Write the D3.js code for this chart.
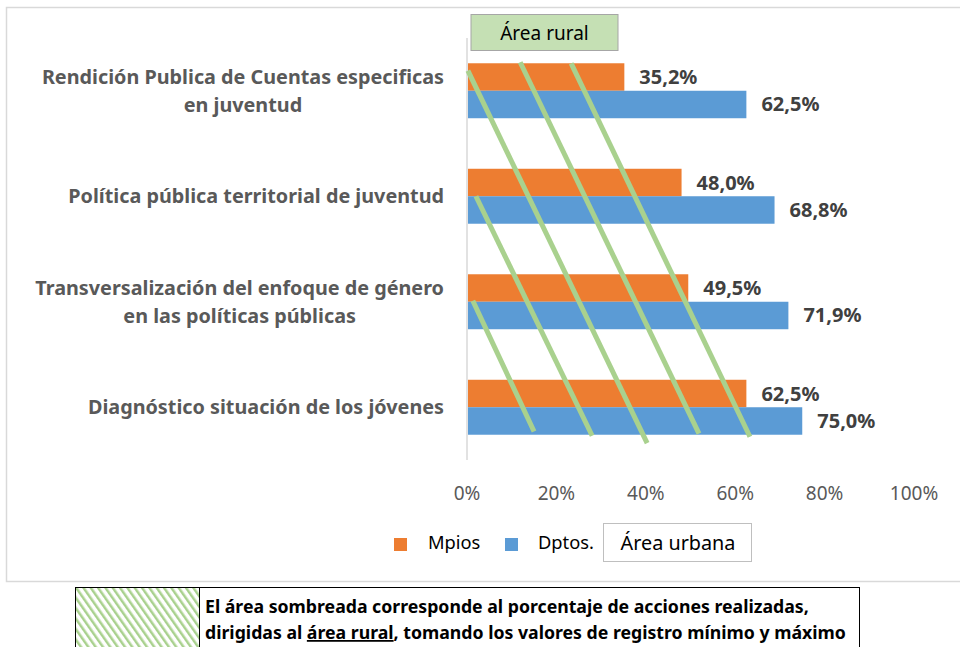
<!DOCTYPE html>
<html>
<head>
<meta charset="utf-8">
<script src="https://cdn.jsdelivr.net/npm/d3@7"></script>
<style>
  body { margin: 0; background: #fff; }
  svg { display: block; font-family: "Noto Sans", Lato, sans-serif; }
</style>
</head>
<body>
<script>
// data
const categories = [
  ["Rendición Publica de Cuentas especificas", "en juventud"],
  ["Política pública territorial de juventud"],
  ["Transversalización del enfoque de género", "en las políticas públicas"],
  ["Diagnóstico situación de los jóvenes"]
];
const seriesNames = ["Mpios", "Dptos."];
const mpios = [35.2, 48.0, 49.5, 62.5];
const dptos = [62.5, 68.8, 71.9, 75.0];
const xTicks = [0, 20, 40, 60, 80, 100];

// rural-area hatch strokes: x in %, y in category units (0 = top, 4 = bottom)
const hatchLines = [
  { x1: 0.2, y1: 0.31, x2: 40.3, y2: 3.84 },
  { x1: 11.9, y1: 0.23, x2: 51.9, y2: 3.75 },
  { x1: 23.3, y1: 0.24, x2: 63.3, y2: 3.78 },
  { x1: 2.0, y1: 1.50, x2: 28.0, y2: 3.77 },
  { x1: 1.3, y1: 2.49, x2: 15.0, y2: 3.73 }
];

const colors = { "Mpios": "#ed7d31", "Dptos.": "#5b9bd5" };
const fmt = v => d3.format(".1f")(v).replace(".", ",") + "%";

const width = 960, height = 647;
const plot = { left: 467, right: 914, top: 38, bottom: 460 };

const svg = d3.select("body").append("svg")
  .attr("width", width)
  .attr("height", height);

svg.append("defs").append("pattern")
  .attr("id", "hatch")
  .attr("patternUnits", "userSpaceOnUse")
  .attr("width", 6).attr("height", 6)
  .attr("patternTransform", "rotate(-35)")
  .append("rect")
  .attr("x", 0).attr("y", 0).attr("width", 2.5).attr("height", 6)
  .attr("fill", "#a9d18e");

// chart frame
svg.append("rect")
  .attr("x", 6.5).attr("y", 7.5)
  .attr("width", 960).attr("height", 574)
  .attr("fill", "#fff")
  .attr("stroke", "#d9d9d9")
  .attr("stroke-width", 1.5);

const x = d3.scaleLinear().domain([0, 100]).range([plot.left, plot.right]);
const y = d3.scaleBand()
  .domain(d3.range(categories.length))
  .range([plot.top, plot.bottom])
  .paddingInner(0.479)
  .paddingOuter(0.2395);
const ySub = d3.scaleBand().domain(seriesNames).range([0, y.bandwidth()]);
const yUnit = d3.scaleLinear().domain([0, categories.length]).range([plot.top, plot.bottom]);

const rows = categories.map((c, i) => ({
  i,
  values: [
    { key: "Mpios", value: mpios[i] },
    { key: "Dptos.", value: dptos[i] }
  ]
}));

// vertical axis line
svg.append("line")
  .attr("x1", x(0)).attr("x2", x(0))
  .attr("y1", plot.top).attr("y2", plot.bottom)
  .attr("stroke", "#d9d9d9")
  .attr("stroke-width", 1.5);

const groups = svg.append("g").selectAll("g")
  .data(rows)
  .join("g")
  .attr("transform", d => `translate(0,${y(d.i)})`);

groups.selectAll("rect")
  .data(d => d.values)
  .join("rect")
  .attr("x", x(0) + 1)
  .attr("y", d => ySub(d.key))
  .attr("width", d => x(d.value) - x(0) - 1)
  .attr("height", ySub.bandwidth())
  .attr("fill", d => colors[d.key]);

groups.selectAll("text.val")
  .data(d => d.values)
  .join("text")
  .attr("class", "val")
  .attr("x", d => x(d.value) + 15)
  .attr("y", d => ySub(d.key) + ySub.bandwidth() / 2)
  .attr("dy", "0.35em")
  .attr("font-size", 20)
  .attr("font-weight", "bold")
  .attr("fill", "#404040")
  .text(d => fmt(d.value));

// hatch strokes over the bars
svg.append("g").selectAll("line")
  .data(hatchLines)
  .join("line")
  .attr("x1", d => x(d.x1)).attr("y1", d => yUnit(d.y1))
  .attr("x2", d => x(d.x2)).attr("y2", d => yUnit(d.y2))
  .attr("stroke", "#a9d18e")
  .attr("stroke-width", 5);

// category labels: block right aligned, lines centred
const labelRight = 444, lineGap = 28;
const catG = svg.append("g")
  .attr("font-size", 19.8)
  .attr("font-weight", "bold")
  .attr("fill", "#595959");
categories.forEach((lines, i) => {
  const g = catG.append("g");
  const t = g.selectAll("text").data(lines).join("text")
    .attr("text-anchor", "middle")
    .attr("y", (d, j) => y(i) + y.bandwidth() / 2 + (j - (lines.length - 1) / 2) * lineGap)
    .attr("dy", "0.35em")
    .text(d => d);
  const w = d3.max(t.nodes(), n => n.getComputedTextLength());
  t.attr("x", labelRight - w / 2);
});

// x tick labels
svg.append("g").selectAll("text")
  .data(xTicks)
  .join("text")
  .attr("x", d => x(d))
  .attr("y", 493)
  .attr("dy", "0.35em")
  .attr("text-anchor", "middle")
  .attr("font-size", 19)
  .attr("fill", "#595959")
  .text(d => d + "%");

// "Área rural" tag
svg.append("rect")
  .attr("x", 471).attr("y", 14.5).attr("width", 147).attr("height", 36)
  .attr("fill", "#c5e0b4").attr("stroke", "#a6a6a6");
svg.append("text")
  .attr("x", 544.5).attr("y", 33)
  .attr("dy", "0.35em").attr("text-anchor", "middle")
  .attr("font-size", 19).attr("fill", "#000")
  .text("Área rural");

// legend
const legend = svg.append("g");
const legendPos = [{ sx: 394, tx: 428 }, { sx: 505, tx: 538 }];
seriesNames.forEach((s, i) => {
  legend.append("rect")
    .attr("x", legendPos[i].sx).attr("y", 538)
    .attr("width", 13).attr("height", 13)
    .attr("fill", colors[s]);
  legend.append("text")
    .attr("x", legendPos[i].tx).attr("y", 543)
    .attr("dy", "0.35em")
    .attr("font-size", 18.3).attr("fill", "#000")
    .text(s);
});
svg.append("rect")
  .attr("x", 603.5).attr("y", 523.5).attr("width", 148).attr("height", 38)
  .attr("fill", "#fff").attr("stroke", "#bfbfbf");
svg.append("text")
  .attr("x", 678).attr("y", 543)
  .attr("dy", "0.35em").attr("text-anchor", "middle")
  .attr("font-size", 19.8).attr("fill", "#000")
  .text("Área urbana");

// note box below the chart
const note = svg.append("g");
note.append("rect")
  .attr("x", 75.5).attr("y", 587.5).attr("width", 124).attr("height", 70)
  .attr("fill", "url(#hatch)").attr("stroke", "#000");
note.append("rect")
  .attr("x", 199.5).attr("y", 587.5).attr("width", 660).attr("height", 70)
  .attr("fill", "none").attr("stroke", "#000");
const noteText = note.append("text")
  .attr("font-size", 17.7)
  .attr("font-weight", "bold")
  .attr("fill", "#000");
noteText.append("tspan")
  .attr("x", 205).attr("y", 613)
  .text("El área sombreada corresponde al porcentaje de acciones realizadas,");
const l2 = noteText.append("tspan").attr("x", 205).attr("y", 639);
l2.append("tspan").text("dirigidas al ");
l2.append("tspan").attr("text-decoration", "underline").text("área rural");
l2.append("tspan").text(", tomando los valores de registro mínimo y máximo");
</script>
</body>
</html>
